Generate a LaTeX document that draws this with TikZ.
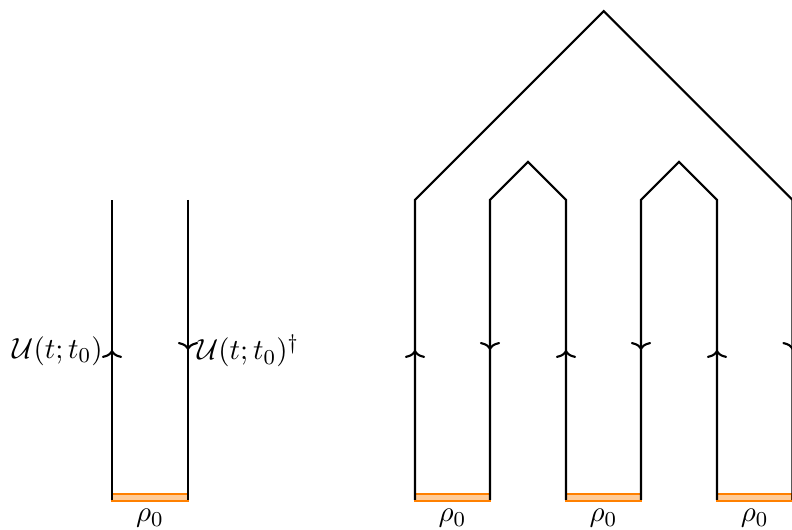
\documentclass[tikz,border=0pt]{standalone}
\usetikzlibrary{decorations.markings,arrows.meta}
\begin{document}
\begin{tikzpicture}[x=0.013245cm,y=-0.013245cm,
  font=\fontsize{11.3}{13.6}\selectfont,
  wire/.style={thick, line join=miter},
  midarrow/.style={thick, postaction={decorate}, decoration={markings, mark=at position 0.5 with {\arrow{To[width=7.6pt,length=3pt]}}}},
  bar/.style={draw=orange, fill=orange!40, thick, minimum width=1cm, minimum height=0.085cm, inner sep=0pt, outer sep=0pt},
  rholabel/.style={anchor=north, inner sep=3.2pt, outer sep=0pt}]
\useasboundingbox (0,0) rectangle (792,530);
% left pair
\coordinate (lb1) at (112,500); \coordinate (lt1) at (112,200);
\coordinate (lb2) at (188,500); \coordinate (lt2) at (188,200);
\node[bar] (barL) at (150,497.5) {};
\draw[midarrow] (lb1) -- (lt1);
\draw[midarrow] (lt2) -- (lb2);
\node[rholabel] (rhoL) at (barL.south) {$\rho_0$};
\node[anchor=east] (UL) at (112,351) {$\mathcal{U}(t;t_0)$};
\node[anchor=west] (UR) at (188,351) {$\mathcal{U}(t;t_0)^\dagger$};
% right structure
\foreach \i/\x in {1/415,2/490,3/566,4/641,5/717,6/792.5}{
  \coordinate (b\i) at (\x,500);
  \coordinate (t\i) at (\x,200);
}
\coordinate (peakO) at (603.75,11.25);
\coordinate (peakA) at (528,162);
\coordinate (peakB) at (679,162);
\foreach \n/\x in {A/452.5,B/603.5,C/754.75}{
  \node[bar] (bar\n) at (\x,497.5) {};
  \node[rholabel] (rho\n) at (bar\n.south) {$\rho_0$};
}
\draw[wire] (b1) -- (t1) -- (peakO) -- (t6) -- (b6);
\draw[wire] (b2) -- (t2) -- (peakA) -- (t3) -- (b3);
\draw[wire] (b4) -- (t4) -- (peakB) -- (t5) -- (b5);
\draw[midarrow, draw=none] (b1) -- (t1);
\draw[midarrow, draw=none] (t2) -- (b2);
\draw[midarrow, draw=none] (b3) -- (t3);
\draw[midarrow, draw=none] (t4) -- (b4);
\draw[midarrow, draw=none] (b5) -- (t5);
\draw[midarrow, draw=none] (t6) -- (b6);
\end{tikzpicture}
\end{document}
